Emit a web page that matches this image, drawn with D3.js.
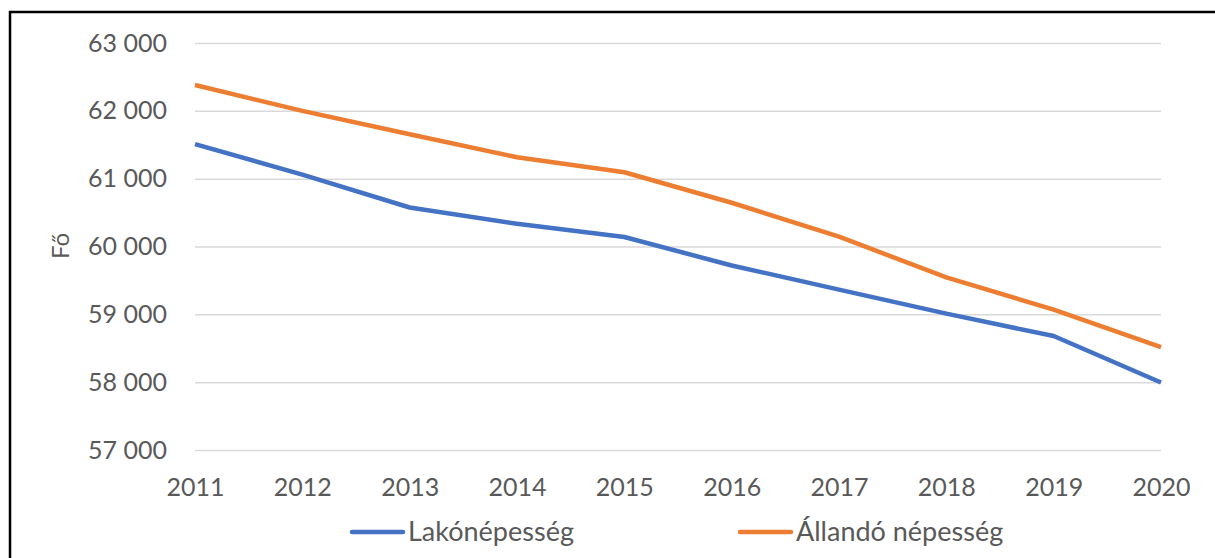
<meta charset="utf-8">
<script src="https://cdn.jsdelivr.net/npm/d3@7"></script>

<style>
  body {
    margin: 0;
    background-color: #ffffff;
  }
  .grid line {
    stroke: #d9d9d9;
    stroke-width: 1.5;
  }
  text {
    font-family: "Lato", "Open Sans", sans-serif;
    fill: #595959;
  }
</style>

<div id="chart"></div>

<script>
// years along the bottom
var years = [2011, 2012, 2013, 2014, 2015, 2016, 2017, 2018, 2019, 2020];
// resident population (blue)
var lakonepesseg = [61510, 61060, 60575, 60335, 60140, 59720, 59365, 59010, 58680, 57995];
// permanent population (orange)
var allandoNepesseg = [62380, 62000, 61655, 61315, 61095, 60645, 60145, 59545, 59070, 58515];
var yTicks = [57000, 58000, 59000, 60000, 61000, 62000, 63000];

var W = 1215, H = 558;
var margin = {top: 43, right: 54, bottom: 108, left: 195};
var width = W - margin.left - margin.right,
    height = H - margin.top - margin.bottom;

var svgRoot = d3.select("#chart")
  .append("svg")
    .attr("width", W)
    .attr("height", H);

// the frame: only top and left edges show in the picture
svgRoot.append("path")
  .attr("d", "M10," + H + "V12H" + W)
  .attr("fill", "none")
  .attr("stroke", "#000")
  .attr("stroke-width", 2.5);

var svg = svgRoot.append("g")
  .attr("transform", "translate(" + margin.left + "," + margin.top + ")");

var x = d3.scalePoint()
  .domain(years)
  .range([0, width]);

var y = d3.scaleLinear()
  .domain([57000, 63000])
  .range([height, 0]);

var fmt = function(d) { return d3.format(",")(d).replace(",", " "); };

// gridlines
svg.append("g")
  .attr("class", "grid")
  .call(d3.axisLeft(y).tickValues(yTicks).tickSize(-width).tickFormat(""))
  .call(function(g) { g.select(".domain").remove(); });

// y labels
svg.append("g")
  .call(d3.axisLeft(y).tickValues(yTicks).tickSize(0).tickPadding(28).tickFormat(fmt))
  .call(function(g) { g.select(".domain").remove(); })
  .selectAll("text")
    .attr("font-size", "25px")
    .style("fill", "#595959");

// x labels
svg.append("g")
  .attr("transform", "translate(0," + height + ")")
  .call(d3.axisBottom(x).tickSize(0).tickPadding(28))
  .call(function(g) { g.select(".domain").remove(); })
  .selectAll("text")
    .attr("font-size", "25px")
    .style("fill", "#595959");

// y axis title
svg.append("text")
  .attr("transform", "translate(" + (61 - margin.left) + "," + (246 - margin.top) + ")rotate(-90)")
  .attr("text-anchor", "middle")
  .attr("dy", "0.35em")
  .attr("font-size", "24px")
  .text("Fő");

var series = [
  {name: "Lakónépesség", values: lakonepesseg, color: "#4472C4"},
  {name: "Állandó népesség", values: allandoNepesseg, color: "#ED7D31"}
];

var line = d3.line()
  .x(function(d, i) { return x(years[i]); })
  .y(function(d) { return y(d); });

series.forEach(function(s) {
  svg.append("path")
    .datum(s.values)
    .attr("fill", "none")
    .attr("stroke", s.color)
    .attr("stroke-width", 4.5)
    .attr("stroke-linejoin", "round")
    .attr("d", line);
});

// legend
var legendX = [350, 738];
var legend = svgRoot.selectAll(".legend")
  .data(series)
  .enter()
  .append("g")
    .attr("transform", function(d, i) { return "translate(" + legendX[i] + ",532)"; });

legend.append("line")
  .attr("x1", 2).attr("x2", 53)
  .attr("stroke", function(d) { return d.color; })
  .attr("stroke-width", 4.5)
  .attr("stroke-linecap", "round");

legend.append("text")
  .attr("x", 58)
  .attr("dy", "0.35em")
  .attr("font-size", "27px")
  .text(function(d) { return d.name; });
</script>
